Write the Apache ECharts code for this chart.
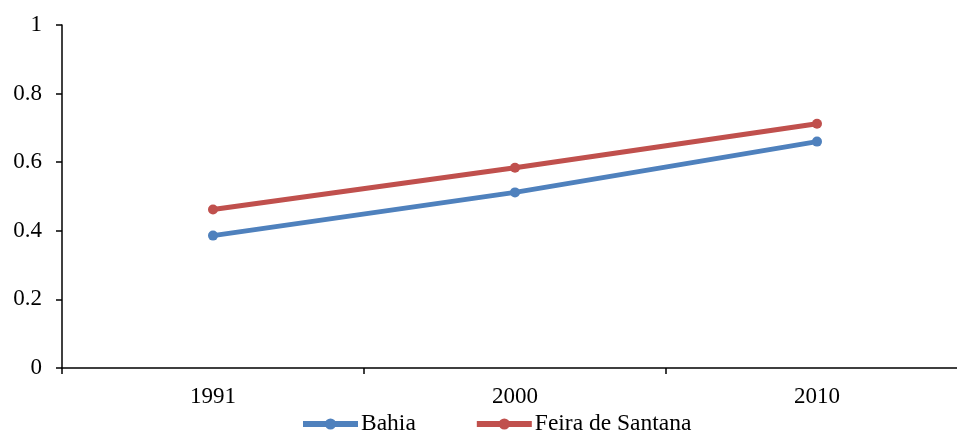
<!DOCTYPE html>
<html>
<head>
<meta charset="utf-8">
<script src="https://cdn.jsdelivr.net/npm/echarts@6/dist/echarts.min.js"></script>
<style>
  html, body { margin: 0; padding: 0; background: #fff; overflow: hidden; }
  #main { width: 968px; height: 433px; }
</style>
</head>
<body>
<div id="main"></div>
<script>
  const years = ['1991', '2000', '2010'];
  const bahia = [0.386, 0.512, 0.660];
  const feira = [0.462, 0.584, 0.712];
  const yTicks = [0, 0.2, 0.4, 0.6, 0.8, 1];

  const font = 'Liberation Serif, Times New Roman, serif';
  let chart = echarts.init(document.getElementById('main'));
  let option = {
    animation: false,
    textStyle: { fontFamily: font },
    legend: {
      top: 412,
      left: 300,
      padding: 0,
      itemWidth: 55,
      itemHeight: 14,
      itemGap: 58,
      lineStyle: { width: 6 },
      textStyle: { fontFamily: font, fontSize: 23.5, color: '#000', padding: [0, 0, 0, -2] },
      data: ['Bahia', 'Feira de Santana']
    },
    grid: {
      left: 62,
      top: 25,
      right: 0,
      bottom: 65,
      containLabel: false
    },
    xAxis: {
      type: 'category',
      data: years,
      boundaryGap: true,
      axisLine: { lineStyle: { color: '#000', width: 1.5 } },
      axisTick: { show: true, length: 6, lineStyle: { color: '#000', width: 1.5 } },
      axisLabel: { color: '#000', fontSize: 23, fontFamily: font, margin: 17 }
    },
    yAxis: {
      type: 'value',
      min: 0,
      max: 1,
      interval: 0.2,
      splitLine: { show: false },
      axisLine: { show: true, lineStyle: { color: '#000', width: 1.5 } },
      axisTick: { show: true, length: 6, lineStyle: { color: '#000', width: 1.5 } },
      axisLabel: {
        color: '#000', fontSize: 23, fontFamily: font, margin: 20,
        formatter: v => yTicks.includes(Math.round(v * 10) / 10) ? String(Math.round(v * 10) / 10) : ''
      }
    },
    series: [
      {
        name: 'Bahia',
        type: 'line',
        data: bahia,
        symbol: 'circle',
        symbolSize: 10,
        color: '#4F81BD',
        lineStyle: { width: 5, color: '#4F81BD' },
        itemStyle: { color: '#4F81BD' }
      },
      {
        name: 'Feira de Santana',
        type: 'line',
        data: feira,
        symbol: 'circle',
        symbolSize: 10,
        color: '#C0504D',
        lineStyle: { width: 5, color: '#C0504D' },
        itemStyle: { color: '#C0504D' }
      }
    ]
  };
  chart.setOption(option);
</script>
</body>
</html>
